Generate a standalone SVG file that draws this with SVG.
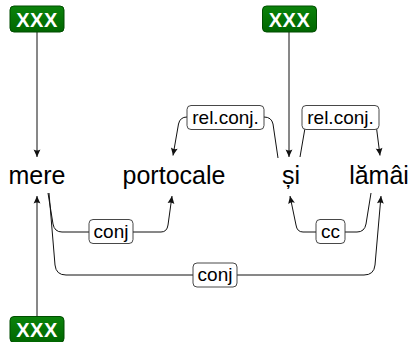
<svg xmlns="http://www.w3.org/2000/svg" width="417" height="342" viewBox="0 0 417 342">
<style>
.word{font-family:"Liberation Sans",Arial,sans-serif;font-size:25px;fill:#000;text-anchor:middle}
.lbl{font-family:"Liberation Sans",Arial,sans-serif;font-size:19px;fill:#000;text-anchor:middle}
.lbox{fill:#fff;stroke:#333;stroke-width:0.9}
.xbox{fill:url(#g);stroke:#004d00;stroke-width:1}
.xtxt{font-family:"Liberation Sans",Arial,sans-serif;font-size:20px;font-weight:bold;fill:#fff;text-anchor:middle;letter-spacing:0.5px}
.e{fill:none;stroke:#111;stroke-width:1;marker-end:url(#ah)}
</style>
<defs>
<linearGradient id="g" x1="0" y1="0" x2="0" y2="1">
<stop offset="0" stop-color="#0b830b"/>
<stop offset="1" stop-color="#006600"/>
</linearGradient>
<marker id="ah" markerUnits="userSpaceOnUse" markerWidth="10" markerHeight="10" viewBox="-8 -5 9 10" refX="0" refY="0" orient="auto">
<path d="M0,0 L-7.5,-3.4 Q-5.5,0 -7.5,3.4 Z" fill="#111"/>
</marker>
</defs>
<g id="connectors">
<path class="e" d="M37,32 L37,157"/>
<path class="e" d="M289,32 L289,157"/>
<path class="e" d="M37,317 L37,196"/>
<path class="e" d="M278,158 L273,124 Q271.5,117 264,117 L187,117 Q180,117 178.5,124 L173,155.5"/>
<path class="e" d="M300,157 L305,128 Q306,124 310,124 L372,124 Q376,124 376.5,128 L380,155.5"/>
<path class="e" d="M48,193 L53,224 Q54.5,232 62,232 L161,232 Q167,232 168,225 L172,196"/>
<path class="e" d="M49,193 L55,265 Q56,275 66,275 L364,275 Q374,275 375,265 L381,196"/>
<path class="e" d="M371,193 L366,224 Q364.5,232 357,232 L303,232 Q297,232 296,225 L290,196"/>
</g>
<g id="lbl-relconj1"><rect class="lbox" x="187" y="105.5" width="77" height="24" rx="4"/><text class="lbl" x="225.5" y="124">rel.conj.</text></g>
<g id="lbl-relconj2"><rect class="lbox" x="302" y="105.5" width="77" height="24" rx="4"/><text class="lbl" x="340.5" y="124">rel.conj.</text></g>
<g id="lbl-conj1"><rect class="lbox" x="89" y="219.5" width="44" height="24" rx="4"/><text class="lbl" x="111" y="237.5">conj</text></g>
<g id="lbl-cc"><rect class="lbox" x="316" y="219.5" width="29" height="24" rx="4"/><text class="lbl" x="330.5" y="237.5">cc</text></g>
<g id="lbl-conj2"><rect class="lbox" x="193" y="263" width="44" height="24" rx="4"/><text class="lbl" x="215" y="281">conj</text></g>
<g id="w-mere"><text class="word" x="37" y="184">mere</text></g>
<g id="w-portocale"><text class="word" x="174" y="184">portocale</text></g>
<g id="w-si"><text class="word" x="291" y="184">și</text></g>
<g id="w-lamai"><text class="word" x="379" y="184">lămâi</text></g>
<g id="x1"><rect class="xbox" x="10" y="6" width="54" height="26" rx="4"/><text class="xtxt" x="37" y="26.5">XXX</text></g>
<g id="x2"><rect class="xbox" x="262.5" y="6" width="54" height="26" rx="4"/><text class="xtxt" x="289.5" y="26.5">XXX</text></g>
<g id="x3"><rect class="xbox" x="10" y="316.5" width="54" height="26" rx="4"/><text class="xtxt" x="37" y="337">XXX</text></g>
</svg>
